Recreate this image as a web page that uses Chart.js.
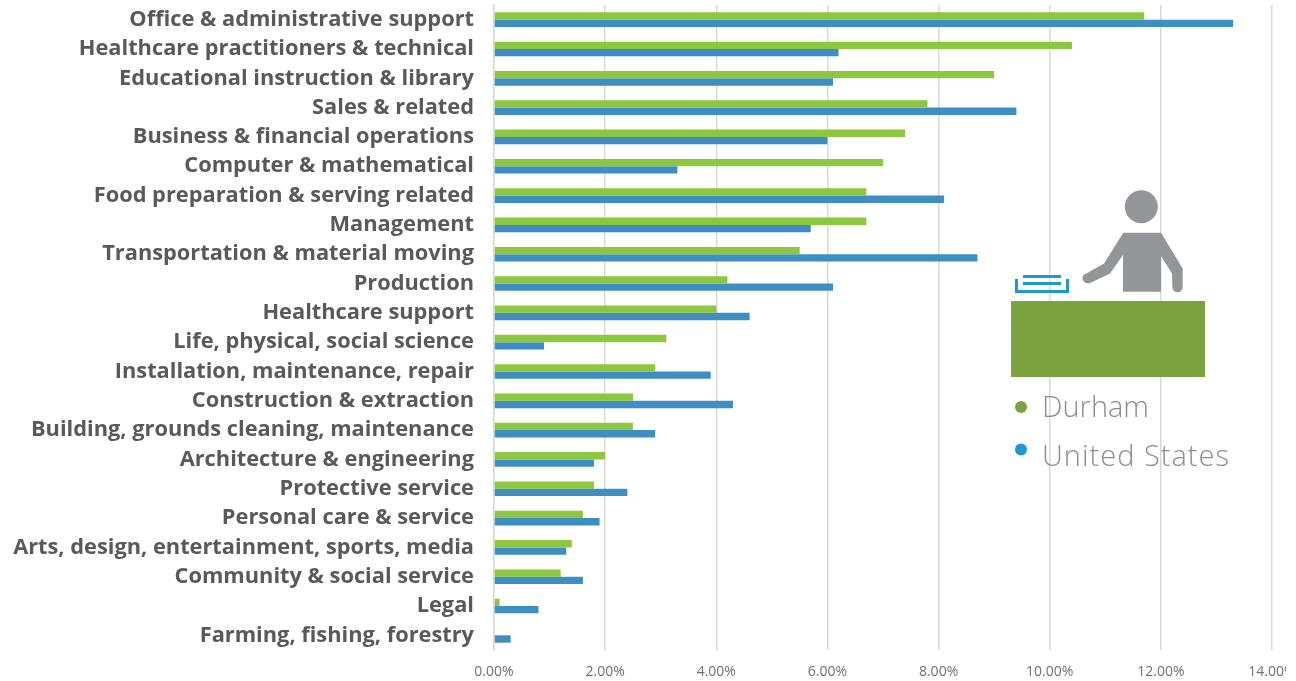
<!DOCTYPE html>
<html>
<head>
<meta charset="utf-8">
<style>
html,body{margin:0;padding:0;background:#fff;overflow:hidden}
#wrap{position:absolute;left:0;top:0;width:1296px;height:681px}
</style>
<script src="https://cdn.jsdelivr.net/npm/chart.js@4"></script>
</head>
<body>
<div id="wrap"><canvas id="c" width="1296" height="681"></canvas></div>
<script>
const categories = ["Office & administrative support","Healthcare practitioners & technical","Educational instruction & library","Sales & related","Business & financial operations","Computer & mathematical","Food preparation & serving related","Management","Transportation & material moving","Production","Healthcare support","Life, physical, social science","Installation, maintenance, repair","Construction & extraction","Building, grounds cleaning, maintenance","Architecture & engineering","Protective service","Personal care & service","Arts, design, entertainment, sports, media","Community & social service","Legal","Farming, fishing, forestry"];
const durham = [11.7,10.4,9.0,7.8,7.4,7.0,6.7,6.7,5.5,4.2,4.0,3.1,2.9,2.5,2.5,2.0,1.8,1.6,1.4,1.2,0.1,0];
const unitedStates = [13.3,6.2,6.1,9.4,6.0,3.3,8.1,5.7,8.7,6.1,4.6,0.9,3.9,4.3,2.9,1.8,2.4,1.9,1.3,1.6,0.8,0.3];
const seriesNames = ["Durham","United States"];

const overlay = {
  id:'overlay',
  afterDatasetsDraw(chart){
    const x = chart.ctx;
    x.save();
    x.fillStyle='#7AA33F'; x.fillRect(1011,301,194,76);
    x.fillStyle='#1E96D8';
    x.fillRect(1015,279,3,14); x.fillRect(1066,279,3,14); x.fillRect(1015,290,54,3);
    x.fillRect(1023,275,38,3); x.fillRect(1023,282,38,3);
    x.fillStyle='#939598';
    x.beginPath(); x.arc(1141.3,206.7,16.5,0,Math.PI*2); x.fill();
    x.beginPath();
    x.moveTo(1123.3,232.7); x.lineTo(1161,232.7); x.lineTo(1182.7,268.5);
    x.lineTo(1182.7,287); x.arc(1177.5,287,5.2,0,Math.PI); x.lineTo(1172,273.5);
    x.lineTo(1161,256); x.lineTo(1161,291.7); x.lineTo(1123,291.7); x.lineTo(1123,255);
    x.lineTo(1110,273.5); x.lineTo(1089,283.5);
    x.arc(1087.5,278.3,5,Math.PI*0.45,Math.PI*1.45); x.lineTo(1104,263.5);
    x.closePath(); x.fill();
    x.fillStyle='#7AA33F'; x.beginPath(); x.arc(1021,407,6,0,Math.PI*2); x.fill();
    x.fillStyle='#1E96D8'; x.beginPath(); x.arc(1021,449.5,6,0,Math.PI*2); x.fill();
    x.fillStyle='#8C8D90'; x.font='300 29px "Open Sans"'; x.textAlign='left'; x.textBaseline='alphabetic';
    x.fillText(seriesNames[0],1042,417);
    x.letterSpacing='1px';
    x.fillText(seriesNames[1],1042,466);
    x.restore();
  },
  afterDraw(chart){
    const x = chart.ctx;
    x.save(); x.fillStyle='#fff'; x.fillRect(1286,655,10,26); x.restore();
  }
};

new Chart(document.getElementById('c'),{
  type:'bar',
  data:{labels:categories,datasets:[
    {label:seriesNames[0],data:durham,backgroundColor:'#8DC63F',categoryPercentage:0.5,barPercentage:1},
    {label:seriesNames[1],data:unitedStates,backgroundColor:'#3E8EC4',categoryPercentage:0.5,barPercentage:1}
  ]},
  options:{
    indexAxis:'y',responsive:false,animation:false,
    layout:{padding:{left:0,right:24,top:5,bottom:0}},
    plugins:{legend:{display:false},tooltip:{enabled:false}},
    scales:{
      x:{min:0,max:14,
        ticks:{stepSize:2,maxRotation:0,padding:14,color:'#6F7072',font:{family:'Open Sans',size:14},callback:v=>v.toFixed(2)+'%'},
        grid:{color:'#D9D9D9',lineWidth:1.5,drawTicks:false},border:{display:false},
        afterFit(s){s.height=31;s.paddingRight=0;s.paddingLeft=0;}
      },
      y:{
        ticks:{autoSkip:false,padding:20,color:'#595959',font:{family:'Open Sans',size:21.8,weight:'bold'}},
        grid:{display:false,drawTicks:false},border:{color:'#D9D9D9',width:1.5},
        afterFit(s){s.width=494;s.paddingTop=0;s.paddingBottom=0;}
      }
    }
  },
  plugins:[overlay]
});
</script>
</body>
</html>
